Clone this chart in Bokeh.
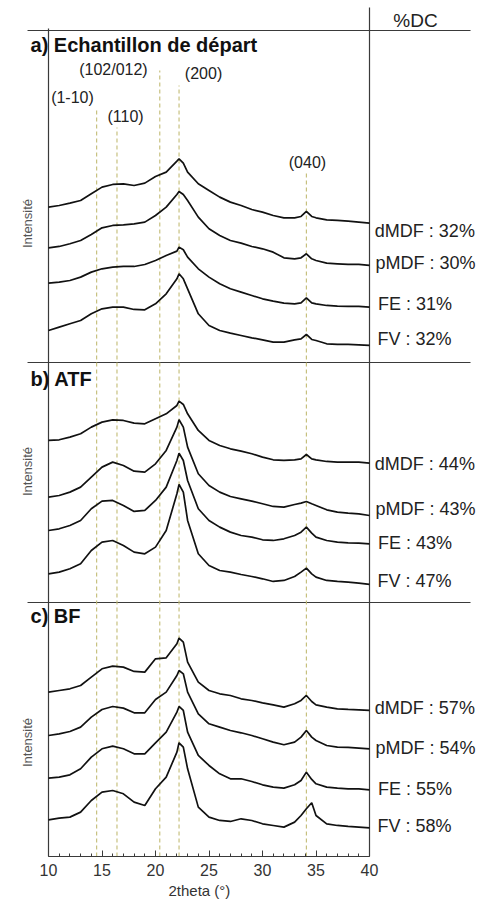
from bokeh.plotting import figure
from bokeh.models import Range1d, SingleIntervalTicker, Title
from bokeh.core.properties import value
from bokeh.embed import file_html
from bokeh.resources import INLINE

# ---------------- data ----------------
TWO_THETA = [10, 11, 12, 13, 14, 15, 16, 17, 18, 19, 20, 21, 22, 22.2, 22.6, 23,
             24, 25, 26, 27, 28, 29, 30, 31, 32, 33, 33.6, 34.1, 34.6,
             35, 36, 37, 38, 39, 40]

SAMPLES = ["dMDF", "pMDF", "FE", "FV"]
PANELS = ["a) Echantillon de départ", "b) ATF", "c) BF"]
DC_A = [32, 30, 31, 32]
DC_B = [44, 43, 43, 47]
DC_C = [57, 54, 55, 58]

# stacked intensities (a.u.) as plotted, panel a
A_dMDF = [500, 505, 512, 520, 540, 560, 568, 570, 565, 572, 592, 605, 638, 645, 632, 605,
          570, 550, 530, 515, 505, 493, 485, 475, 468, 468, 472, 487, 472,
          468, 462, 460, 458, 455, 452]
A_pMDF = [378, 382, 390, 400, 418, 438, 445, 447, 450, 455, 475, 500, 538, 547, 538, 520,
          470, 435, 415, 400, 392, 382, 375, 365, 348, 345, 348, 360, 345,
          340, 332, 330, 328, 328, 325]
A_FE = [272, 275, 280, 290, 305, 315, 320, 322, 322, 328, 340, 355, 368, 380, 372, 350,
        315, 290, 270, 255, 245, 235, 225, 218, 212, 210, 213, 228, 213,
        210, 205, 203, 202, 202, 200]
A_FV = [130, 140, 150, 160, 180, 195, 200, 200, 193, 192, 210, 240, 285, 300, 285, 255,
        180, 145, 130, 122, 115, 108, 102, 95, 95, 102, 105, 118, 103,
        100, 90, 88, 88, 87, 85]

# panel b
B_dMDF = [520, 522, 530, 540, 560, 575, 582, 580, 572, 570, 585, 600, 625, 638, 628, 600,
          550, 520, 505, 495, 488, 480, 470, 462, 460, 462, 465, 478, 465,
          462, 457, 455, 455, 455, 452]
B_pMDF = [350, 355, 365, 380, 410, 440, 455, 445, 428, 425, 450, 490, 560, 582, 560, 500,
          420, 385, 365, 352, 345, 338, 330, 322, 320, 328, 332, 337, 330,
          325, 312, 305, 302, 300, 295]
B_FE = [250, 255, 265, 280, 315, 338, 340, 325, 307, 310, 340, 380, 460, 482, 460, 400,
        315, 280, 260, 245, 235, 230, 222, 220, 225, 235, 245, 260, 242,
        230, 220, 215, 213, 212, 210]
B_FV = [120, 125, 135, 150, 190, 215, 220, 205, 185, 180, 200, 250, 360, 388, 365, 280,
        180, 145, 130, 125, 118, 112, 105, 97, 100, 112, 125, 137, 120,
        110, 100, 97, 95, 92, 88]

# panel c
C_dMDF = [500, 505, 510, 520, 545, 570, 578, 575, 562, 560, 600, 603, 645, 662, 650, 590,
          530, 505, 495, 490, 480, 475, 468, 462, 455, 465, 475, 490, 472,
          462, 455, 450, 448, 447, 445]
C_pMDF = [370, 375, 382, 395, 425, 448, 457, 452, 438, 438, 478, 500, 550, 565, 555, 500,
          435, 405, 395, 385, 378, 370, 360, 350, 342, 350, 365, 385, 365,
          355, 340, 335, 334, 332, 330]
C_FE = [242, 245, 252, 270, 305, 330, 338, 330, 315, 315, 348, 380, 440, 457, 445, 380,
        310, 280, 255, 240, 240, 232, 222, 215, 212, 222, 235, 260, 238,
        225, 215, 212, 210, 210, 207]
C_FV = [117, 122, 125, 140, 175, 200, 205, 195, 170, 160, 210, 245, 320, 348, 335, 270,
        155, 125, 115, 112, 120, 115, 105, 100, 95, 110, 130, 150, 168,
        130, 105, 100, 97, 95, 93]

PEAK_HKL = ["(1-10)", "(110)", "(102/012)", "(200)", "(040)"]
PEAK_POS = [14.5, 16.4, 20.4, 22.2, 34.1]

# ---------------- layout / style ----------------
FONT = "Liberation Sans"
LINE_COL = "#3a3a3a"
DASH_COL = "#c2bb74"

panel_curves = [[A_dMDF, A_pMDF, A_FE, A_FV],
                [B_dMDF, B_pMDF, B_FE, B_FV],
                [C_dMDF, C_pMDF, C_FE, C_FV]]
panel_dc = [DC_A, DC_B, DC_C]
panel_base = [482.7, 242.7, -2.3]   # vertical offset of each panel (px-like units)
scale = 1.0 / 3.0
label_y = [[626, 594, 553, 518], [393, 348, 314, 276], [149, 109, 68, 31]]
label_x = [40.5, 40.55, 40.8, 40.75]
title_y = [812, 478, 241]
intens_y = [633, 385, 114]

p = figure(width=482, height=903, output_backend="svg", toolbar_location=None,
           x_range=Range1d(5.514, 50.56), y_range=Range1d(0, 856),
           y_axis_location=None, min_border=0, min_border_bottom=47)
p.outline_line_color = None
p.grid.visible = False
p.background_fill_color = "white"

ax = p.xaxis[0]
ax.bounds = (10, 40)
ax.ticker = SingleIntervalTicker(interval=5, num_minor_ticks=5)
ax.axis_line_color = LINE_COL
ax.axis_line_width = 1.2
ax.major_tick_in = 6
ax.major_tick_out = 0
ax.minor_tick_in = 3
ax.minor_tick_out = 0
ax.major_tick_line_color = LINE_COL
ax.minor_tick_line_color = LINE_COL
ax.major_label_text_font = FONT
ax.major_label_text_font_size = "16px"
ax.major_label_text_color = "#333333"
ax.major_label_standoff = 7

# x-axis title, placed under the 10-40 span of the axis
p.add_layout(Title(text="2theta (°)", align="left", offset=168, standoff=3,
                   text_font=FONT, text_font_size="15px", text_font_style="normal",
                   text_color="#333333"), "below")

# frame lines (horizontal separators, verticals)
p.segment(x0=[8.04, 8.04, 8.04], y0=[826, 494, 254], x1=[49.44, 49.44, 49.44],
          y1=[826, 494, 254], line_color=LINE_COL, line_width=1.2)
p.segment(x0=[10, 40], y0=[0, 0], x1=[10, 40], y1=[828, 849],
          line_color=LINE_COL, line_width=1.2)

# dashed reference lines
dash_top = [749, 729, 786, 771, 684]
p.segment(x0=PEAK_POS, y0=[0] * 5, x1=PEAK_POS, y1=dash_top,
          line_color=DASH_COL, line_width=1.1, line_dash="4 3")

# peak labels
p.text(x=[12.24, 17.2, 16.07, 24.49, 34.2], y=[759, 740, 787, 783, 694], text=PEAK_HKL,
       text_font=value(FONT), text_font_size="16px", text_align="center",
       text_baseline="middle", text_color="#222222")

# curves
for k in range(3):
    for j in range(4):
        ys = [panel_base[k] + v * scale for v in panel_curves[k][j]]
        p.line(TWO_THETA, ys, line_color="#111111", line_width=1.7)
    texts = [f"{SAMPLES[j]} : {panel_dc[k][j]}%" for j in range(4)]
    p.text(x=label_x, y=label_y[k], text=texts, text_font=value(FONT),
           text_font_size="18px", text_baseline="middle", text_color="#222222")

# panel titles
p.text(x=[8.32] * 3, y=title_y, text=PANELS, text_font=value(FONT),
       text_font_size="20px", text_font_style="bold", text_baseline="middle",
       text_color="#111111")

# y labels
p.text(x=[8.08] * 3, y=intens_y, text=["Intensité"] * 3, angle=1.5708,
       text_font=value(FONT), text_font_size="13px", text_align="center",
       text_baseline="middle", text_color="#555555")

# %DC header
p.text(x=[44.3], y=[836], text=["%DC"], text_font=value(FONT), text_font_size="19px",
       text_align="center", text_baseline="middle", text_color="#222222")

open("out.html", "w").write(file_html(p, INLINE))
